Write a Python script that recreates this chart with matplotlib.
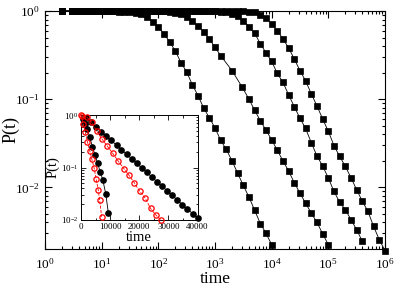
import matplotlib
matplotlib.use("Agg")
import matplotlib.pyplot as plt
from matplotlib.ticker import LogLocator, NullFormatter, MultipleLocator

plt.rcParams['font.family'] = ['Liberation Serif', 'DejaVu Serif']
plt.rcParams['mathtext.fontset'] = 'custom'
plt.rcParams['mathtext.rm'] = 'Liberation Serif'

# main panel: four curves (squares)
t_early = [2, 3, 4, 5, 6, 8, 10, 13, 16, 20, 25, 32, 40, 50]
t_mid = [63, 79, 100, 126, 158, 200, 251, 316, 398, 501, 631, 794, 1000]

t1 = t_early + t_mid + [1259, 1585, 1995, 2512, 3162, 3981, 5012, 6310, 7943,
                        10000]
p1 = [1, 1, 1, 1, 1, 1, 0.998, 0.995, 0.99, 0.985, 0.98, 0.97, 0.955, 0.93,
      0.855, 0.76, 0.66, 0.55, 0.447, 0.351, 0.26, 0.204, 0.146, 0.11, 0.0794,
      0.0617, 0.0473, 0.0342, 0.0269, 0.020, 0.0145, 0.0105, 0.00776, 0.0055,
      0.00389, 0.00302, 0.00224]

t2 = t_early + t_mid + [1259, 1995, 3020, 3981, 5012, 6310, 7943, 10000, 12589,
                        15849, 19953, 25119, 31623, 39811, 50119, 63096, 79433,
                        100000]
p2 = [1] * 14 + [0.998, 0.997, 0.995, 0.99, 0.98, 0.96, 0.92, 0.86, 0.776,
                 0.681, 0.582, 0.479, 0.389, 0.312, 0.211, 0.137, 0.1, 0.075,
                 0.057, 0.0445, 0.0347, 0.0263, 0.020, 0.0153, 0.0113, 0.0086,
                 0.0066, 0.0051, 0.0040, 0.00298, 0.00224]

t3 = t_early + t_mid + [1259, 1585, 1995, 2512, 3162, 3981, 5012, 6310, 7943,
                        10000, 12589, 15849, 19953, 25119, 31623, 39811, 50119,
                        63096, 79433, 100000, 125893, 158489, 199526, 251189,
                        316228, 398107]
p3 = [1] * 14 + [1, 1, 1, 1, 1, 1, 1, 0.999, 0.998, 0.997, 0.995, 0.993, 0.99,
                 0.985, 0.966, 0.93, 0.87, 0.776, 0.664, 0.558, 0.427, 0.336,
                 0.268, 0.196, 0.155, 0.112, 0.0822, 0.0608, 0.0465, 0.0321,
                 0.0227, 0.0175, 0.0128, 0.0090, 0.0068, 0.00558, 0.00432,
                 0.00331, 0.00245]

t4 = t_early + t_mid + [1259, 1585, 1995, 2512, 3162, 3981, 5012, 6310, 7943,
                        10000, 12589, 15849, 19953, 25119, 31623, 39811, 50119,
                        63096, 79433, 100000, 125893, 158489, 199526, 251189,
                        316228, 398107, 501187, 630957, 794328, 1000000]
p4 = [1] * 27 + [1, 0.999, 0.998, 0.997, 0.993, 0.985, 0.965, 0.91, 0.83,
                 0.718, 0.60, 0.481, 0.382, 0.285, 0.211, 0.161, 0.115, 0.0838,
                 0.0597, 0.0433, 0.0298, 0.0225, 0.0173, 0.0129, 0.0094,
                 0.00698, 0.00533, 0.0036, 0.00255, 0.00192]

x_major = [1, 10, 100, 1000, 10000, 100000, 1000000]
y_major = [0.01, 0.1, 1]

# inset: linear time, log P
ib_fast_t = [800, 1500, 2200, 3000, 3900, 4800, 5700, 6600, 7500, 8500, 9400]
ib_fast_p = [0.83, 0.676, 0.537, 0.38, 0.251, 0.174, 0.12, 0.083, 0.0575,
             0.0316, 0.0135]
ib_slow_t = [1700, 3500, 5200, 7000, 8700, 10400, 12200, 13900, 15700, 17400,
             19100, 20900, 22600, 24300, 26100, 27800, 29600, 31300, 33000,
             34800, 36500, 38300, 40000]
ib_slow_p = [0.891, 0.724, 0.596, 0.484, 0.398, 0.327, 0.266, 0.219, 0.178,
             0.146, 0.120, 0.0977, 0.0804, 0.0661, 0.0537, 0.0442, 0.0359,
             0.0295, 0.0243, 0.0197, 0.0162, 0.0132, 0.0108]
ir_fast_t = [0, 800, 1500, 2200, 3000, 3700, 4500, 5200, 5900, 6400, 7100]
ir_fast_p = [1.0, 0.676, 0.468, 0.309, 0.209, 0.145, 0.098, 0.060, 0.038,
             0.024, 0.0115]
ir_slow_t = [500, 2000, 3700, 5400, 7100, 9000, 10900, 12800, 14700, 16500,
             18300, 20100, 22000, 23900, 25600, 27400]
ir_slow_p = [0.977, 0.912, 0.724, 0.49, 0.355, 0.257, 0.186, 0.132, 0.0955,
             0.0708, 0.0513, 0.0355, 0.0263, 0.0166, 0.0126, 0.010]
inset_xticks = [0, 10000, 20000, 30000, 40000]

fig = plt.figure(figsize=(3.99, 2.90), dpi=100)
ax = fig.add_axes([0.1128, 0.1414, 0.852, 0.8207])

for t, p in [(t1, p1), (t2, p2), (t3, p3), (t4, p4)]:
    ax.plot(t, p, color='black', lw=0.6, marker='s', ms=4.4, mfc='black',
            mec='black', mew=0.5, clip_on=False, zorder=3)

ax.set_xscale('log')
ax.set_yscale('log')
ax.set_xlim(1, 1e6)
ax.set_ylim(2e-3, 1)
ax.set_xticks(x_major)
ax.set_yticks(y_major)
ax.xaxis.set_minor_locator(LogLocator(base=10, subs=range(2, 10), numticks=20))
ax.yaxis.set_minor_locator(LogLocator(base=10, subs=range(2, 10), numticks=20))
ax.xaxis.set_minor_formatter(NullFormatter())
ax.yaxis.set_minor_formatter(NullFormatter())
ax.tick_params(which='both', direction='in', top=True, right=True,
               labelsize=9.5, width=0.8)
ax.tick_params(which='major', length=5)
ax.tick_params(axis='x', which='major', pad=6)
ax.tick_params(axis='y', which='major', pad=4)
ax.tick_params(which='minor', length=2.5)
for s in ax.spines.values():
    s.set_linewidth(0.8)
ax.set_xlabel('time', fontsize=12.5, labelpad=-1)
ax.set_ylabel('P(t)', fontsize=13)
ax.yaxis.set_label_coords(-0.075, 0.5)

# inset
ins = fig.add_axes([0.203, 0.2414, 0.292, 0.362])
ins.plot(ib_fast_t, ib_fast_p, color='black', lw=0.6, marker='o', ms=3.8,
         mfc='black', mec='black', clip_on=False, zorder=3)
ins.plot(ib_slow_t, ib_slow_p, color='black', lw=0.6, marker='o', ms=3.8,
         mfc='black', mec='black', clip_on=False, zorder=3)
ins.plot(ir_fast_t, ir_fast_p, color='red', lw=0.6, ls='--', marker='o',
         ms=3.8, mfc='none', mec='red', mew=0.9, clip_on=False, zorder=3)
ins.plot(ir_slow_t, ir_slow_p, color='red', lw=0.6, ls='--', marker='o',
         ms=3.8, mfc='none', mec='red', mew=0.9, clip_on=False, zorder=3)
ins.set_yscale('log')
ins.set_xlim(0, 40000)
ins.set_ylim(1e-2, 1)
ins.set_xticks(inset_xticks)
ins.set_yticks(y_major)
ins.xaxis.set_minor_locator(MultipleLocator(5000))
ins.yaxis.set_minor_locator(LogLocator(base=10, subs=range(2, 10), numticks=20))
ins.yaxis.set_minor_formatter(NullFormatter())
ins.tick_params(which='both', direction='in', top=True, right=True,
                labelsize=6.5, width=0.6, pad=2)
ins.tick_params(which='major', length=3.5)
ins.tick_params(which='minor', length=1.8)
for s in ins.spines.values():
    s.set_linewidth(0.7)
ins.set_xlabel('time', fontsize=10.5, labelpad=0)
ins.set_ylabel('P(t)', fontsize=10.5, labelpad=1)

fig.savefig('out.png', dpi=100)
